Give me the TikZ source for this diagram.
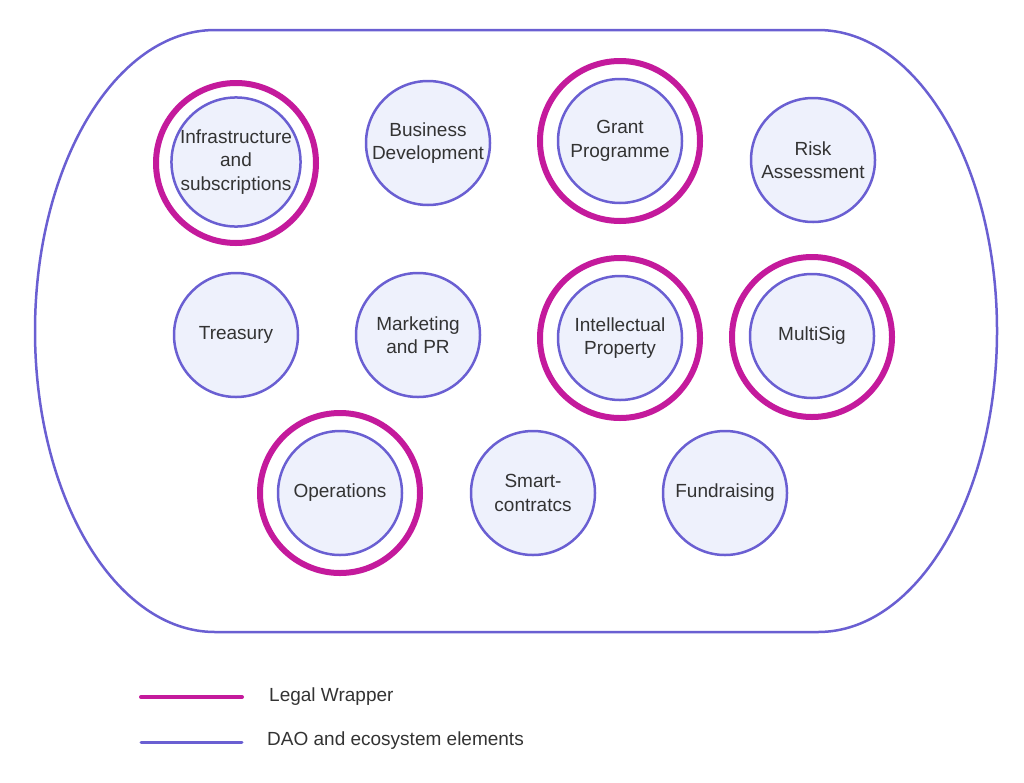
\documentclass[tikz,border=0pt]{standalone}
\usepackage{fontspec}
\setmainfont{Liberation Sans}
\definecolor{dao}{HTML}{6A5FD2}
\definecolor{daofill}{HTML}{EEF1FC}
\definecolor{legal}{HTML}{C41A9C}
\definecolor{txt}{HTML}{333333}
\begin{document}
\begin{tikzpicture}[x=1pt,y=1pt,
  elem/.style={circle,draw=dao,fill=daofill,line width=2.5pt,minimum size=124pt,inner sep=0pt,align=center,text=txt,font=\fontsize{19}{23.5}\selectfont},
  wrapper/.style={circle,draw=legal,line width=6pt,minimum size=160pt,inner sep=0pt},
  container/.style={draw=dao,line width=2.5pt},
  legtext/.style={anchor=west,text=txt,font=\fontsize{19}{23}\selectfont,inner sep=0pt}]
\useasboundingbox (0,0) rectangle (1024,-782);
% container
\draw[container] (215,-30) -- (818,-30) arc[start angle=90,end angle=-90,x radius=179,y radius=301]
  -- (215,-632) arc[start angle=-90,end angle=-270,x radius=180,y radius=301] -- cycle;
% wrappers
\node[wrapper] (wInfra) at (236,-163) {};
\node[wrapper] (wGrant) at (620,-141) {};
\node[wrapper] (wIP) at (620,-338) {};
\node[wrapper] (wMulti) at (812,-337) {};
\node[wrapper] (wOps) at (340,-493) {};
% elements
\node[elem] (infra) at (236,-162) {Infrastructure\\and\\subscriptions};
\node[elem] (bizdev) at (428,-143) {Business\\Development};
\node[elem] (grant) at (620,-141) {Grant\\Programme};
\node[elem] (risk) at (813,-160) {Risk\\Assessment};
\node[elem] (treasury) at (236,-335) {Treasury};
\node[elem] (mkt) at (418,-335) {Marketing\\and PR};
\node[elem] (ip) at (620,-338) {Intellectual\\Property};
\node[elem] (multi) at (812,-336) {MultiSig};
\node[elem] (ops) at (340,-493) {Operations};
\node[elem] (smart) at (533,-493) {Smart-\\contratcs};
\node[elem] (fund) at (725,-493) {Fundraising};
% legend
\coordinate (la1) at (141,-697);
\coordinate (lb1) at (242,-697);
\coordinate (la2) at (141,-742);
\coordinate (lb2) at (242,-742);
\draw[legal,line width=4pt,line cap=round] (la1) -- (lb1);
\draw[dao,line width=3pt,line cap=round] (la2) -- (lb2);
\node[legtext] (lt1) at (269,-697) {Legal Wrapper};
\node[legtext] (lt2) at (267,-741) {DAO and ecosystem elements};
\end{tikzpicture}
\end{document}
